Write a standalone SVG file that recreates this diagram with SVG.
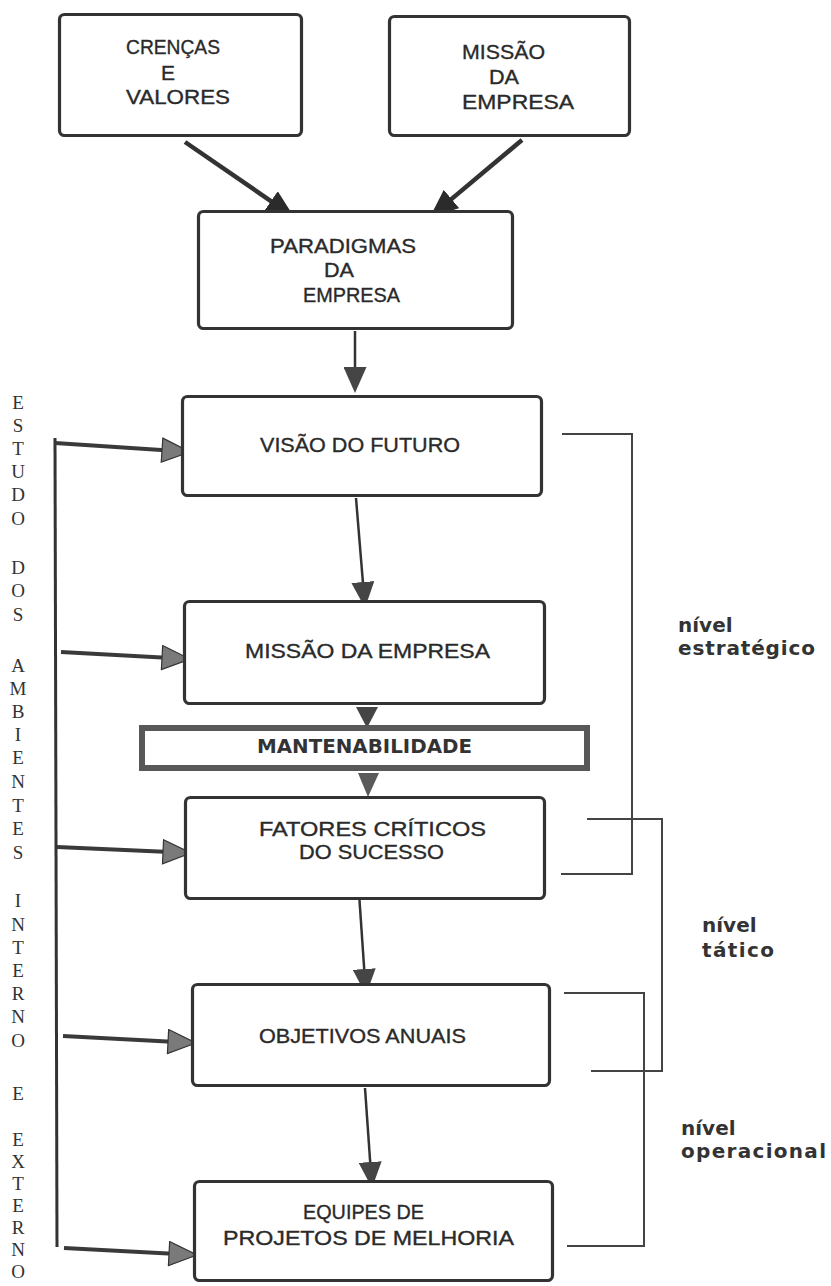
<svg xmlns="http://www.w3.org/2000/svg" width="831" height="1286" viewBox="0 0 831 1286">
<style>
.box{fill:#fff;stroke:#333;stroke-width:3.2}
.lbl{font-family:"Liberation Sans",Arial,sans-serif;font-size:21px;fill:#2a2a2a;stroke:#2a2a2a;stroke-width:0.35}
.lvl{font-family:"DejaVu Sans",Verdana,sans-serif;font-size:20px;font-weight:bold;fill:#333}
.side{font-family:"Liberation Serif","Times New Roman",serif;font-size:19px;fill:#333;text-anchor:middle}
.thick{fill:none;stroke:#333;stroke-width:4.5}
.thin{fill:none;stroke:#333;stroke-width:2.5}
.side-arrow{fill:none;stroke:#3a3a3a;stroke-width:4}
.brk{fill:none;stroke:#444;stroke-width:2}
</style>
<defs>
<marker id="ahD" markerUnits="userSpaceOnUse" viewBox="0 0 28 24" markerWidth="28" markerHeight="24" refX="18" refY="12" orient="auto"><path d="M0,0 L28,12 L0,24 Z" fill="#2b2b2b"/></marker>
<marker id="ahV" markerUnits="userSpaceOnUse" viewBox="0 0 26 23" markerWidth="26" markerHeight="23" refX="16" refY="11.5" orient="auto"><path d="M0,0 L26,11.5 L0,23 Z" fill="#454545"/></marker>
<marker id="ahG" markerUnits="userSpaceOnUse" viewBox="-1 -1 30 26" markerWidth="30" markerHeight="26" refX="18" refY="12" orient="auto"><path d="M0,0 L28,12 L0,24 Z" fill="#7a7a7a" stroke="#333" stroke-width="1.2"/></marker>
</defs>

<g id="connectors">
<path class="thick" d="M185,142 L285.8,211.3" marker-end="url(#ahD)"/>
<path class="thick" d="M522,140 L437.7,210.6" marker-end="url(#ahD)"/>
<path class="thin" d="M355,331 L355,383" marker-end="url(#ahV)"/>
<path class="thin" d="M356,498 L364.2,598" marker-end="url(#ahV)"/>
<polygon points="356,707 378,707 367,728" fill="#454545"/>
<polygon points="358,773 379,773 368,797" fill="#5a5a5a"/>
<path class="thin" d="M359,893 L365.3,985" marker-end="url(#ahV)"/>
<path class="thin" d="M365,1088 L371.3,1178" marker-end="url(#ahV)"/>
<path d="M55,438 L57,1247" fill="none" stroke="#333" stroke-width="3"/>
<path class="side-arrow" d="M55,443 L180,451.3" marker-end="url(#ahG)"/>
<path class="side-arrow" d="M61,652 L180,658.5" marker-end="url(#ahG)"/>
<path class="side-arrow" d="M57,847 L181,852.6" marker-end="url(#ahG)"/>
<path class="side-arrow" d="M63,1036 L186,1042.5" marker-end="url(#ahG)"/>
<path class="side-arrow" d="M64,1248 L187,1254.5" marker-end="url(#ahG)"/>
<path class="brk" d="M562,434 H632 V874 H561"/>
<path class="brk" d="M587,819 H662 V1071 H591"/>
<path class="brk" d="M564,993 H644 V1246 H567"/>
</g>

<g id="crencas">
<rect class="box" x="59.5" y="14.5" width="242" height="121" rx="5"/>
<text class="lbl" x="126" y="54" textLength="94" lengthAdjust="spacingAndGlyphs">CRENÇAS</text>
<text class="lbl" x="161" y="80">E</text>
<text class="lbl" x="126" y="104" textLength="104" lengthAdjust="spacingAndGlyphs">VALORES</text>
</g>

<g id="missao-top">
<rect class="box" x="389.5" y="16.5" width="240" height="119" rx="5"/>
<text class="lbl" x="462" y="59" textLength="83" lengthAdjust="spacingAndGlyphs">MISSÃO</text>
<text class="lbl" x="489" y="84" textLength="30" lengthAdjust="spacingAndGlyphs">DA</text>
<text class="lbl" x="462" y="109" textLength="112" lengthAdjust="spacingAndGlyphs">EMPRESA</text>
</g>

<g id="paradigmas">
<rect class="box" x="198.5" y="211.5" width="314" height="117" rx="5"/>
<text class="lbl" x="270" y="253" textLength="146" lengthAdjust="spacingAndGlyphs">PARADIGMAS</text>
<text class="lbl" x="324" y="277" textLength="30" lengthAdjust="spacingAndGlyphs">DA</text>
<text class="lbl" x="303" y="302" textLength="97" lengthAdjust="spacingAndGlyphs">EMPRESA</text>
</g>

<g id="visao">
<rect class="box" x="182.5" y="396.5" width="359" height="99" rx="5"/>
<text class="lbl" x="260" y="452" textLength="200" lengthAdjust="spacingAndGlyphs">VISÃO DO FUTURO</text>
</g>

<g id="missao">
<rect class="box" x="184.5" y="601.5" width="360" height="102" rx="5"/>
<text class="lbl" x="245" y="658" textLength="245" lengthAdjust="spacingAndGlyphs">MISSÃO DA EMPRESA</text>
</g>

<g id="mantenabilidade">
<rect x="142" y="728" width="445" height="40" fill="#fff" stroke="#585858" stroke-width="6"/>
<text x="257" y="753" textLength="215" lengthAdjust="spacingAndGlyphs" style="font-family:'DejaVu Sans',Verdana,sans-serif;font-size:19px;font-weight:bold;fill:#333">MANTENABILIDADE</text>
</g>

<g id="fatores">
<rect class="box" x="185.5" y="797.5" width="359" height="101" rx="5"/>
<text class="lbl" x="259" y="836" textLength="227" lengthAdjust="spacingAndGlyphs">FATORES CRÍTICOS</text>
<text class="lbl" x="299" y="859" textLength="145" lengthAdjust="spacingAndGlyphs">DO SUCESSO</text>
</g>

<g id="objetivos">
<rect class="box" x="192.5" y="984.5" width="357" height="101" rx="5"/>
<text class="lbl" x="259" y="1043" textLength="207" lengthAdjust="spacingAndGlyphs">OBJETIVOS ANUAIS</text>
</g>

<g id="equipes">
<rect class="box" x="194.5" y="1181.5" width="358" height="99" rx="5"/>
<text class="lbl" x="303" y="1219" textLength="121" lengthAdjust="spacingAndGlyphs">EQUIPES DE</text>
<text class="lbl" x="223" y="1245" textLength="291" lengthAdjust="spacingAndGlyphs">PROJETOS DE MELHORIA</text>
</g>

<g id="nivel-estrategico">
<text class="lvl" x="678" y="632">nível</text>
<text class="lvl" x="678" y="655" textLength="137">estratégico</text>
</g>
<g id="nivel-tatico">
<text class="lvl" x="702" y="932">nível</text>
<text class="lvl" x="702" y="957" textLength="72">tático</text>
</g>
<g id="nivel-operacional">
<text class="lvl" x="681" y="1135">nível</text>
<text class="lvl" x="681" y="1158" textLength="145">operacional</text>
</g>

<g id="estudo-label">
<text class="side" x="18" y="409">E</text>
<text class="side" x="18" y="432">S</text>
<text class="side" x="18" y="455">T</text>
<text class="side" x="18" y="478">U</text>
<text class="side" x="18" y="501">D</text>
<text class="side" x="18" y="525">O</text>
<text class="side" x="18" y="574">D</text>
<text class="side" x="18" y="597">O</text>
<text class="side" x="18" y="621">S</text>
<text class="side" x="18" y="672">A</text>
<text class="side" x="18" y="695">M</text>
<text class="side" x="18" y="718">B</text>
<text class="side" x="18" y="741">I</text>
<text class="side" x="18" y="764">E</text>
<text class="side" x="18" y="788">N</text>
<text class="side" x="18" y="812">T</text>
<text class="side" x="18" y="835">E</text>
<text class="side" x="18" y="859">S</text>
<text class="side" x="18" y="907">I</text>
<text class="side" x="18" y="931">N</text>
<text class="side" x="18" y="954">T</text>
<text class="side" x="18" y="977">E</text>
<text class="side" x="18" y="1000">R</text>
<text class="side" x="18" y="1023">N</text>
<text class="side" x="18" y="1047">O</text>
<text class="side" x="18" y="1100">E</text>
<text class="side" x="18" y="1146">E</text>
<text class="side" x="18" y="1168">X</text>
<text class="side" x="18" y="1190">T</text>
<text class="side" x="18" y="1212">E</text>
<text class="side" x="18" y="1234">R</text>
<text class="side" x="18" y="1256">N</text>
<text class="side" x="18" y="1278">O</text>
</g>
</svg>
